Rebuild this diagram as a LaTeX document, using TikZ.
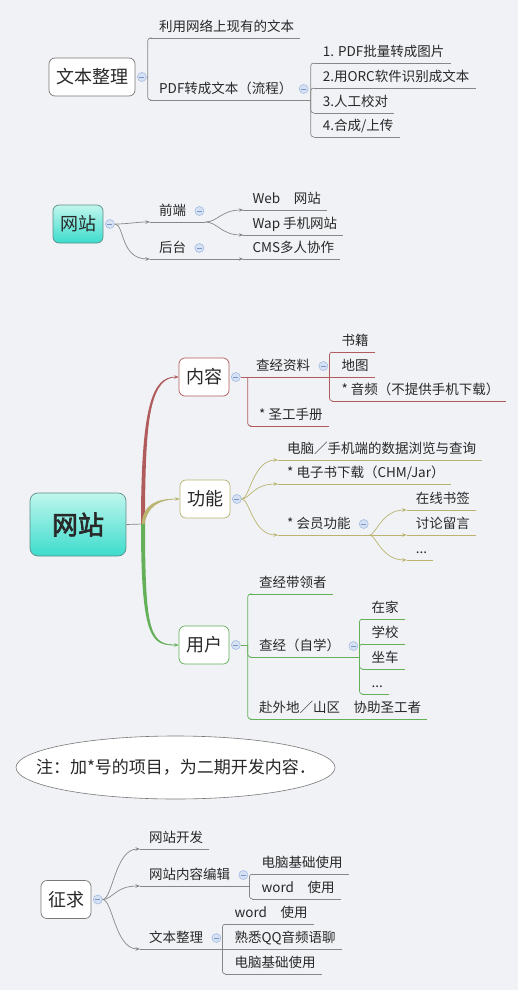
\documentclass[tikz,border=0pt]{standalone}
\usepackage{fontspec}
\setmainfont{Noto Sans CJK SC}
\newfontfamily\boldcjk{Noto Sans CJK SC}[FakeBold=2.5]
\usepackage{xcolor}
\usepackage{tikz}
\usetikzlibrary{arrows.meta, shapes.geometric, calc}

\definecolor{paper}{RGB}{240,242,245}
\definecolor{ink}{RGB}{40,40,40}
\definecolor{graylink}{RGB}{135,135,135}
\definecolor{boxgray}{RGB}{120,120,120}
\definecolor{redline}{RGB}{176,92,92}
\definecolor{oliveline}{RGB}{186,180,112}
\definecolor{greenline}{RGB}{100,176,88}
\definecolor{tealtop}{RGB}{192,246,238}
\definecolor{tealbot}{RGB}{60,220,204}
\definecolor{tealedge}{RGB}{95,140,135}
\definecolor{foldfill}{RGB}{214,226,244}
\definecolor{foldedge}{RGB}{165,188,226}
\definecolor{foldmark}{RGB}{120,150,200}

\newcommand\leaffont{\fontsize{13.5}{16}\selectfont}
\newcommand\topicfont{\fontsize{18}{21}\selectfont}
\newcommand\centerfont{\boldcjk\fontsize{26}{30}\selectfont}
\newcommand\notefont{\fontsize{17}{20}\selectfont}

\tikzset{
  topic/.style={draw=boxgray, fill=white, rounded corners=6pt, line width=.7pt,
    minimum width=50pt, minimum height=38pt, inner sep=0pt, font=\topicfont, text=ink},
  tealfill/.style={draw=tealedge, top color=tealtop, bottom color=tealbot},
  centerbox/.style={minimum width=96pt, minimum height=63pt, rounded corners=8pt, font=\centerfont},
  leaf/.style={anchor=south west, inner xsep=6pt, inner ysep=0pt, text height=11pt, text depth=6pt,
    font=\leaffont, text=ink, execute at begin node={\hspace*{3pt}},
    append after command={(\tikzlastnode.south west) edge[draw=#1, line width=.7pt] (\tikzlastnode.south east)}},
  leaf/.default=graylink,
  hasfold/.style={leaf=#1, execute at end node={\hspace*{13pt}}},
  hasfold/.default=graylink,
  fold/.style={circle, draw=foldedge, fill=foldfill, line width=.6pt, minimum size=9pt, inner sep=0pt,
    path picture={\draw[foldmark, line width=.8pt] ([xshift=-2.4pt]path picture bounding box.center)
      -- ([xshift=2.4pt]path picture bounding box.center);}},
  link/.style={draw=#1, line width=.7pt, -{Stealth[length=4.5pt, width=3.5pt]}},
  link/.default=graylink,
  bracket/.style={draw=#1, line width=.7pt, rounded corners=3pt},
  bracket/.default=graylink
}

\begin{document}
\begin{tikzpicture}[x=1pt, y=-1pt]
\fill[paper] (0,0) rectangle (518,990);
\useasboundingbox (0,0) rectangle (518,990);

\node[topic, minimum width=86pt] (wbzl) at (92,77) {文本整理};
\node[fold] (wbzlf) at ([xshift=6.5pt]wbzl.east) {};
\coordinate (wbzlh) at ([xshift=1pt]wbzlf.east);
\node[leaf] (xywb) at (150,38) {利用网络上现有的文本};
\node[leaf] (pdf) at (150,100) {PDF转成文本（流程）};
\node[fold] (pdff) at ([shift={(5,-11)}]pdf.south east) {};
\coordinate (pdfh) at ([xshift=12pt]pdf.south east);
\node[leaf] (pdfa) at ([shift={(15,-37)}]pdf.south east) {1. PDF批量转成图片};
\node[leaf] (pdfb) at ([shift={(15,-12)}]pdf.south east) {2.用ORC软件识别成文本};
\node[leaf] (pdfc) at ([shift={(15,13)}]pdf.south east) {3.人工校对};
\node[leaf] (pdfd) at ([shift={(15,37)}]pdf.south east) {4.合成/上传};
\draw[bracket] (wbzlf.east) -- (wbzlh);
\draw[bracket] (wbzlh) |- (xywb.south west);
\draw[bracket] (wbzlh) |- (pdf.south west);
\draw[bracket] (pdf.south east) -- (pdfh);
\foreach \n in {pdfa,pdfb,pdfc,pdfd}
  \draw[bracket] (pdfh) |- (\n.south west);

\node[topic, tealfill] (wz) at (78,224) {网站};
\node[fold] (wzf) at ([xshift=6.5pt]wz.east) {};
\node[hasfold] (qd) at (150,222) {前端};
\node[fold] (qdf) at ([shift={(-6,-11)}]qd.south east) {};
\node[hasfold] (ht) at (150,259) {后台};
\node[fold] (htf) at ([shift={(-6,-11)}]ht.south east) {};
\node[leaf] (web) at ([shift={(38,-12)}]qd.south east) {Web　网站};
\node[leaf] (wap) at ([shift={(38,13)}]qd.south east) {Wap 手机网站};
\node[leaf] (cms) at ([shift={(38,0)}]ht.south east) {CMS多人协作};
\draw[link] (wzf.east) .. controls +(15,0) and +(-15,0) .. (qd.south west);
\draw[link] (wzf.east) .. controls +(10,0) and +(-30,0) .. (ht.south west);
\draw[link] (qd.south east) .. controls +(12,0) and +(-22,0) .. (web.south west);
\draw[link] (qd.south east) .. controls +(12,0) and +(-22,0) .. (wap.south west);
\draw[link] (ht.south east) -- (cms.south west);

\node[topic, tealfill, centerbox] (wzc) at (78,524.5) {网站};
\coordinate (wzch) at (143,524);
\draw[graylink, line width=.7pt] (wzc.east) -- (wzch);
\node[topic, draw=redline] (nr) at (204,377) {内容};
\node[topic, draw=oliveline] (gn) at (205,499) {功能};
\node[topic, draw=greenline] (yh) at (204,645) {用户};
\fill[redline] ([xshift=-2pt]wzch) .. controls +(0,-115) and +(-24,-1.2) .. ([xshift=-3pt]nr.west)
  .. controls +(-24,1.2) and +(0,-115) .. ([xshift=2pt]wzch) -- cycle;
\draw[link=redline] (wzch) .. controls +(0,-115) and +(-25,0) .. (nr.west);
\fill[greenline] ([xshift=-2pt]wzch) .. controls +(0,115) and +(-24,1.2) .. ([xshift=-3pt]yh.west)
  .. controls +(-24,-1.2) and +(0,115) .. ([xshift=2pt]wzch) -- cycle;
\draw[link=greenline] (wzch) .. controls +(0,115) and +(-25,0) .. (yh.west);
\fill[oliveline] ([xshift=-1.5pt]wzch) .. controls +(2,-20) and +(-20,-0.8) .. ([xshift=-3pt]gn.west)
  .. controls +(-20,0.8) and +(3,-16) .. ([xshift=1.5pt]wzch) -- cycle;
\draw[link=oliveline] (wzch) .. controls +(2,-18) and +(-20,0) .. (gn.west);

\node[fold] (nrf) at ([xshift=6.5pt]nr.east) {};
\node[hasfold=redline] (zjzl) at (247,377) {查经资料};
\node[fold] (zjzlf) at ([shift={(-6,-11)}]zjzl.south east) {};
\node[leaf=redline] (sgsc) at (250,426) {* 圣工手册};
\node[leaf=redline] (sj) at ([shift={(3,-25)}]zjzl.south east) {书籍};
\node[leaf=redline] (dt) at ([shift={(3,0)}]zjzl.south east) {地图};
\node[leaf=redline] (yp) at ([shift={(3,24)}]zjzl.south east) {* 音频（不提供手机下载）};
\draw[bracket=redline] (nrf.east) -- (zjzl.south west);
\draw[bracket=redline] ([xshift=7pt]nrf.east) |- (sgsc.south west);
\draw[bracket=redline] (zjzl.south east) |- (sj.south west);
\draw[bracket=redline] (zjzl.south east) -- (dt.south west);
\draw[bracket=redline] (zjzl.south east) |- (yp.south west);

\node[fold] (gnf) at ([xshift=6.5pt]gn.east) {};
\node[leaf=oliveline] (llcx) at (278,460) {电脑／手机端的数据浏览与查询};
\node[leaf=oliveline] (dzs) at (278,484) {* 电子书下载（CHM/Jar）};
\node[hasfold=oliveline] (hygn) at (278,535) {* 会员功能};
\node[fold] (hygnf) at ([shift={(-6,-11)}]hygn.south east) {};
\node[leaf=oliveline] (zxsq) at ([shift={(37,-25)}]hygn.south east) {在线书签};
\node[leaf=oliveline] (tlly) at ([shift={(37,0)}]hygn.south east) {讨论留言};
\node[leaf=oliveline] (gnmore) at ([shift={(37,25)}]hygn.south east) {...};
\draw[link=oliveline] (gnf.east) .. controls +(8,0) and +(-25,0) .. (llcx.south west);
\draw[link=oliveline] (gnf.east) .. controls +(8,0) and +(-25,0) .. (dzs.south west);
\draw[link=oliveline] (gnf.east) .. controls +(8,0) and +(-25,0) .. (hygn.south west);
\draw[link=oliveline] (hygn.south east) .. controls +(6,0) and +(-25,0) .. (zxsq.south west);
\draw[link=oliveline] (hygn.south east) -- (tlly.south west);
\draw[link=oliveline] (hygn.south east) .. controls +(6,0) and +(-25,0) .. (gnmore.south west);

\node[fold] (yhf) at ([xshift=6.5pt]yh.east) {};
\coordinate (yhh) at ([xshift=7pt]yhf.east);
\node[leaf=greenline] (dlz) at (250,594) {查经带领者};
\node[hasfold=greenline] (zjzx) at (250,657) {查经（自学）};
\node[fold] (zjzxf) at ([shift={(-6,-11)}]zjzx.south east) {};
\node[leaf=greenline] (fwd) at (250,719) {赴外地／山区　协助圣工者};
\node[leaf=greenline] (zj) at ([shift={(3,-38)}]zjzx.south east) {在家};
\node[leaf=greenline] (xx) at ([shift={(3,-13)}]zjzx.south east) {学校};
\node[leaf=greenline] (zc) at ([shift={(3,12)}]zjzx.south east) {坐车};
\node[leaf=greenline] (yhmore) at ([shift={(3,37)}]zjzx.south east) {...};
\draw[bracket=greenline] (yhf.east) -- (yhh);
\foreach \n in {dlz,zjzx,fwd}
  \draw[bracket=greenline] (yhh) |- (\n.south west);
\foreach \n in {zj,xx,zc,yhmore}
  \draw[bracket=greenline] (zjzx.south east) |- (\n.south west);

\fill[white, draw=boxgray, line width=.6pt] (175.5,767.5) ellipse [x radius=159.5pt, y radius=31.5pt];
\node[inner sep=0pt, font=\notefont, text=ink] (note) at (176,767.5) {注：加*号的项目，为二期开发内容．};

\node[topic] (zq) at (66,899.5) {征求};
\node[fold] (zqf) at ([xshift=6.5pt]zq.east) {};
\node[leaf] (wzkf) at (140,849) {网站开发};
\node[hasfold] (nrbj) at (140,886) {网站内容编辑};
\node[fold] (nrbjf) at ([shift={(-6,-11)}]nrbj.south east) {};
\node[hasfold] (wbzl2) at (140,949) {文本整理};
\node[fold] (wbzl2f) at ([shift={(-6,-11)}]wbzl2.south east) {};
\node[leaf] (jcsy) at ([shift={(3,-12)}]nrbj.south east) {电脑基础使用};
\node[leaf] (word) at ([shift={(3,13)}]nrbj.south east) {word　使用};
\node[leaf] (word2) at ([shift={(3,-25)}]wbzl2.south east) {word　使用};
\node[leaf] (qq) at ([shift={(3,0)}]wbzl2.south east) {熟悉QQ音频语聊};
\node[leaf] (jcsy2) at ([shift={(3,25)}]wbzl2.south east) {电脑基础使用};
\draw[link] (zqf.east) .. controls +(10,0) and +(-25,0) .. (wzkf.south west);
\draw[link] (zqf.east) .. controls +(10,0) and +(-25,0) .. (nrbj.south west);
\draw[link] (zqf.east) .. controls +(10,0) and +(-25,0) .. (wbzl2.south west);
\draw[bracket] (nrbj.south east) |- (jcsy.south west);
\draw[bracket] (nrbj.south east) |- (word.south west);
\draw[bracket] (wbzl2.south east) |- (word2.south west);
\draw[bracket] (wbzl2.south east) -- (qq.south west);
\draw[bracket] (wbzl2.south east) |- (jcsy2.south west);
\end{tikzpicture}
\end{document}
